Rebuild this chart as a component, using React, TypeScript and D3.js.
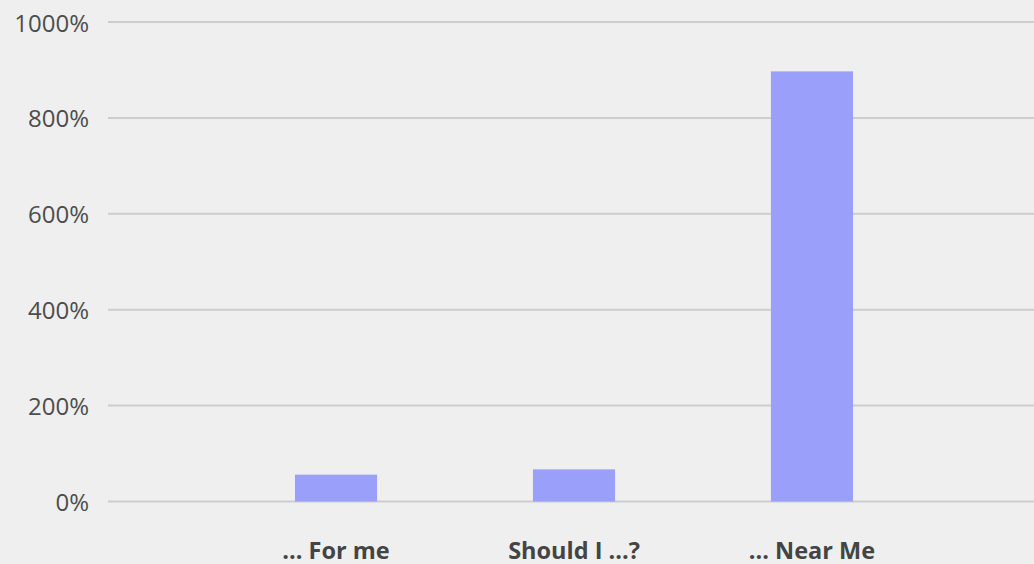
import React from "react";
import * as d3 from "d3";

const categories = ["... For me", "Should I ...?", "... Near Me"];
const values = [56, 67, 897];
const yTicks = [0, 200, 400, 600, 800, 1000];

const W = 1034;
const H = 564;
const margin = { left: 108, right: 0, top: 22, bottom: 62 };

export default function App() {
  React.useEffect(() => {
    document.body.style.margin = "0";
    document.body.style.background = "#efefef";
  }, []);

  const y = d3.scaleLinear().domain([0, 1000]).range([H - margin.bottom - 0.5, margin.top]);
  const x = d3
    .scaleBand<string>()
    .domain(categories)
    .range([176, 972])
    .paddingInner(0.655)
    .paddingOuter(0.5);

  return (
    <svg width={W} height={H} style={{ display: "block", background: "#efefef" }}>
      <rect x={0} y={0} width={W} height={H} fill="#efefef" />
      {yTicks.map((t) => (
        <g key={t}>
          <line x1={margin.left} x2={W} y1={y(t)} y2={y(t)} stroke="#cdcdcd" strokeWidth={2} />
          <text
            x={89}
            y={y(t)}
            textAnchor="end"
            dominantBaseline="central"
            fontFamily="'Open Sans', Lato, sans-serif"
            fontSize={24}
            fill="#4d4d4d"
          >
            {t}%
          </text>
        </g>
      ))}
      {categories.map((c, i) => (
        <rect
          key={c}
          x={x(c)}
          y={y(values[i])}
          width={x.bandwidth()}
          height={y(0) - y(values[i])}
          fill="#9aa0fa"
        />
      ))}
      {categories.map((c) => (
        <text
          key={c}
          x={(x(c) as number) + x.bandwidth() / 2}
          y={559}
          textAnchor="middle"
          fontFamily="'Open Sans', Lato, sans-serif"
          fontWeight={700}
          fontSize={23.5}
          fill="#444"
        >
          {c}
        </text>
      ))}
    </svg>
  );
}
